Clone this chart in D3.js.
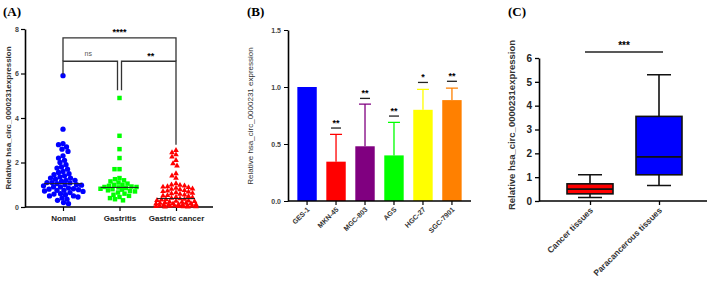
<!DOCTYPE html>
<html>
<head>
<meta charset="utf-8">
<script src="https://cdn.jsdelivr.net/npm/d3@7"></script>
<style>
  body { margin: 0; background: #fff; }
  svg { display: block; }
  svg text { font-family: "Liberation Sans", Arial, sans-serif; }
</style>
</head>
<body>
<svg id="chart" width="709" height="283"></svg>
<script>
// ---- panel A: scatter data ----
const groupsA = ["Nomal", "Gastritis", "Gastric cancer"];
const normalVals = [5.9, 3.5, 2.85, 2.8, 2.7, 2.6, 2.5, 2.3, 2.2, 2.1, 2.0, 1.9, 1.8, 1.75, 1.7, 1.6, 1.55, 1.5,
  1.45, 1.4, 1.35, 1.3, 1.3, 1.25, 1.2, 1.2, 1.15, 1.1, 1.1, 1.08, 1.05, 1.0, 1.0, 0.98, 0.95, 0.9, 0.9, 0.85,
  0.82, 0.8, 0.78, 0.75, 0.75, 0.72, 0.7, 0.65, 0.6, 0.58, 0.55, 0.5, 0.5, 0.45, 0.4, 0.35, 0.3, 0.2, 0.15];
const gastritisVals = [4.9, 3.2, 2.6, 2.2, 1.7, 1.7, 1.3, 1.25, 1.2, 1.15, 1.1, 1.05, 1.0, 1.0, 0.95, 0.92, 0.9,
  0.9, 0.88, 0.85, 0.82, 0.8, 0.78, 0.75, 0.72, 0.7, 0.65, 0.6, 0.55, 0.5, 0.45, 0.4, 0.35, 0.3];
const cancerVals = [2.55, 2.45, 2.35, 2.25, 2.1, 1.95, 1.85, 1.5, 1.4, 1.3, 1.05, 1.0, 0.98, 0.95, 0.92, 0.9,
  0.88, 0.85, 0.82, 0.8, 0.78, 0.75, 0.72, 0.7, 0.68, 0.65, 0.62, 0.6, 0.58, 0.55, 0.52, 0.5, 0.48, 0.45, 0.42,
  0.4, 0.38, 0.36, 0.34, 0.32, 0.3, 0.28, 0.26, 0.25, 0.23, 0.22, 0.2, 0.18, 0.17, 0.16, 0.15, 0.14, 0.12, 0.11,
  0.1, 0.09, 0.08, 0.07, 0.06, 0.05, 0.05, 0.04, 0.03, 0.03, 0.02, 0.02, 0.01, 0.01];
const mediansA = [1.05, 0.88, 0.38];
const colorsA = ["#0000ff", "#00ff00", "#ff0000"];
const ticksA = [0, 2, 4, 6, 8];

// ---- panel B: bar data ----
const cellLines = ["GES-1", "MKN-45", "MGC-803", "AGS", "HGC-27", "SGC-7901"];
const cellMeans = [1.0, 0.345, 0.48, 0.40, 0.80, 0.885];
const cellErrTop = [1.0, 0.585, 0.85, 0.69, 0.98, 0.99];
const cellSig = ["", "**", "**", "**", "*", "**"];
const cellSigY = [0, 0.64, 0.90, 0.745, 1.04, 1.05];
const cellColors = ["#0000ff", "#ff0000", "#800080", "#00ff00", "#ffff00", "#ff8000"];
const ticksB = [0, 0.5, 1.0, 1.5];

// ---- panel C: box data ----
const tissues = ["Cancer tissues", "Paracancerous tissues"];
const boxMin = [0.15, 0.65];
const boxQ1 = [0.3, 1.1];
const boxMed = [0.5, 1.85];
const boxQ3 = [0.72, 3.55];
const boxMax = [1.1, 5.3];
const boxColors = ["#ff0000", "#0000ff"];
const ticksC = [0, 1, 2, 3, 4, 5, 6];

const svg = d3.select("#chart");

function panelLabel(x, y, t) {
  svg.append("text").attr("x", x).attr("y", y)
    .style("font-family", "'Liberation Serif', serif").style("font-weight", "bold")
    .style("font-size", "13px").text(t);
}
panelLabel(3, 16, "(A)");
panelLabel(247, 16, "(B)");
panelLabel(508, 16, "(C)");

// ================= Panel A =================
{
  const x = d3.scalePoint().domain(groupsA).range([63, 176]);
  const y = d3.scaleLinear().domain([0, 8]).range([207, 29]);
  const g = svg.append("g");

  // axes
  const ya = g.append("g").attr("transform", "translate(25,0)")
    .call(d3.axisLeft(y).tickValues(ticksA).tickFormat(d3.format("d")).tickSize(4).tickSizeOuter(0));
  ya.select(".domain").attr("stroke-width", 1.6);
  ya.selectAll(".tick line").attr("stroke-width", 1.2);
  ya.selectAll("text").style("font-size", "7px").style("font-weight", "bold").attr("fill", "#444").attr("dx", 1);

  const xa = g.append("g").attr("transform", "translate(0,207)")
    .call(d3.axisBottom(x).tickSize(4).tickSizeOuter(0));
  xa.select(".domain").attr("d", "M25,0H213").attr("stroke-width", 1.6);
  xa.selectAll(".tick line").attr("stroke-width", 1.2);
  xa.selectAll("text").style("font-size", "8px").style("font-weight", "bold").attr("fill", "#222").attr("dy", "0.9em");

  g.append("text").attr("transform", "translate(11,118) rotate(-90)")
    .attr("text-anchor", "middle").style("font-size", "8px").style("font-weight", "bold").attr("fill", "#333")
    .text("Relative hsa_circ_0000231expression");

  // bounded beeswarm placement: pick the offset with least overlap inside +-20px
  const allGroups = [normalVals, gastritisVals, cancerVals];
  const diam = [4.6, 4.6, 4.2];
  const halfW = [21, 19, 20];
  allGroups.forEach((vals, gi) => {
    const placed = [];
    const cx = x(groupsA[gi]);
    const sorted = vals.slice().sort((a, b) => b - a);
    sorted.forEach(v => {
      const py = y(v);
      let best = 0, bestScore = Infinity;
      for (let off = -halfW[gi]; off <= halfW[gi]; off += 0.5) {
        let pen = 0;
        placed.forEach(p => {
          const dd = Math.hypot(p.x - off, p.y - py);
          if (dd < diam[gi]) pen += (diam[gi] - dd);
        });
        const score = pen * 10 + Math.abs(off) * 0.05;
        if (score < bestScore) { bestScore = score; best = off; }
      }
      placed.push({ x: best, y: py, v });
    });
    const sym = [d3.symbolCircle, d3.symbolSquare, d3.symbolTriangle][gi];
    const size = [22, 20, 14][gi];
    g.append("g").selectAll("path").data(placed).join("path")
      .attr("transform", p => `translate(${cx + p.x},${p.y})`)
      .attr("d", d3.symbol().type(sym).size(size))
      .attr("fill", colorsA[gi]);
    // median line
    g.append("line").attr("x1", cx - 19).attr("x2", cx + 19)
      .attr("y1", y(mediansA[gi])).attr("y2", y(mediansA[gi]))
      .attr("stroke", "#222").attr("stroke-width", 1);
  });

  // significance brackets
  const br = g.append("g").attr("fill", "none").attr("stroke", "#333").attr("stroke-width", 1.3);
  const xn = x("Nomal"), xg = x("Gastritis"), xc = x("Gastric cancer");
  br.append("path").attr("d", `M${xn},${y(6.55)}V${y(7.6)}H${xc}V${y(6.55)}`);
  br.append("path").attr("d", `M${xn},${y(5.95)}V${y(6.55)}H${xg - 2}V${y(5.25)}`);
  br.append("path").attr("d", `M${xg + 2},${y(5.25)}V${y(6.55)}H${xc}V${y(2.8)}`);
  g.append("text").attr("x", (xn + xc) / 2).attr("y", y(7.6) - 3).attr("text-anchor", "middle")
    .style("font-size", "9px").style("font-weight", "bold").text("****");
  g.append("text").attr("x", (xn + xg) / 2 - 3).attr("y", y(6.55) - 5).attr("text-anchor", "middle")
    .style("font-size", "7px").attr("fill", "#555").text("ns");
  g.append("text").attr("x", (xg + xc) / 2 + 3).attr("y", y(6.55) - 2).attr("text-anchor", "middle")
    .style("font-size", "9px").style("font-weight", "bold").text("**");
}

// ================= Panel B =================
{
  const x = d3.scaleBand().domain(cellLines).range([293, 466]).paddingInner(0.33).paddingOuter(0.15);
  const y = d3.scaleLinear().domain([0, 1.5]).range([201, 30]);
  const g = svg.append("g");

  const ya = g.append("g").attr("transform", "translate(288,0)")
    .call(d3.axisLeft(y).tickValues(ticksB).tickFormat(d3.format(".1f")).tickSize(4).tickSizeOuter(0));
  ya.select(".domain").attr("stroke-width", 1.6);
  ya.selectAll("text").style("font-size", "7px").style("font-weight", "bold").attr("fill", "#444");

  g.selectAll("rect.bar").data(cellLines).join("rect").attr("class", "bar")
    .attr("x", d => x(d)).attr("width", x.bandwidth())
    .attr("y", (d, i) => y(cellMeans[i])).attr("height", (d, i) => y(0) - y(cellMeans[i]))
    .attr("fill", (d, i) => cellColors[i]);

  // upper error bars
  cellLines.forEach((d, i) => {
    if (cellErrTop[i] <= cellMeans[i]) return;
    const cx = x(d) + x.bandwidth() / 2;
    g.append("path").attr("d", `M${cx},${y(cellMeans[i])}V${y(cellErrTop[i])}M${cx - 6},${y(cellErrTop[i])}H${cx + 6}`)
      .attr("stroke", cellColors[i]).attr("stroke-width", 1.3).attr("fill", "none");
    if (cellSig[i]) {
      g.append("line").attr("x1", cx - 5).attr("x2", cx + 5)
        .attr("y1", y(cellSigY[i])).attr("y2", y(cellSigY[i]))
        .attr("stroke", "#222").attr("stroke-width", 1.3);
      g.append("text").attr("x", cx).attr("y", y(cellSigY[i]) - 2.5).attr("text-anchor", "middle")
        .style("font-size", "9px").style("font-weight", "bold").text(cellSig[i]);
    }
  });

  const xa = g.append("g").attr("transform", "translate(0,201)")
    .call(d3.axisBottom(x).tickSize(4).tickSizeOuter(0));
  xa.select(".domain").attr("d", "M288,0H471").attr("stroke-width", 1.6);
  xa.selectAll(".tick line").attr("stroke-width", 1.2);
  xa.selectAll("text").style("font-size", "7px").style("font-weight", "bold").attr("fill", "#333")
    .attr("text-anchor", "end").attr("dy", 0).attr("y", 0)
    .attr("transform", "translate(3,9) rotate(-45)");

  g.append("text").attr("transform", "translate(253,116) rotate(-90)")
    .attr("text-anchor", "middle").style("font-size", "8px").attr("fill", "#333")
    .text("Relative hsa_circ_0000231 expression");
}

// ================= Panel C =================
{
  const x = d3.scalePoint().domain(tissues).range([590, 659]);
  const y = d3.scaleLinear().domain([0, 6]).range([201, 58]);
  const g = svg.append("g");
  const bw = 46;

  tissues.forEach((d, i) => {
    const cx = x(d);
    g.append("path").attr("d",
      `M${cx},${y(boxQ3[i])}V${y(boxMax[i])}M${cx - 12},${y(boxMax[i])}H${cx + 12}` +
      `M${cx},${y(boxQ1[i])}V${y(boxMin[i])}M${cx - 12},${y(boxMin[i])}H${cx + 12}`)
      .attr("stroke", "#111").attr("stroke-width", 1.6).attr("fill", "none");
    g.append("rect").attr("x", cx - bw / 2).attr("width", bw)
      .attr("y", y(boxQ3[i])).attr("height", y(boxQ1[i]) - y(boxQ3[i]))
      .attr("fill", boxColors[i]).attr("stroke", "#111").attr("stroke-width", 1.6);
    g.append("line").attr("x1", cx - bw / 2).attr("x2", cx + bw / 2)
      .attr("y1", y(boxMed[i])).attr("y2", y(boxMed[i]))
      .attr("stroke", "#111").attr("stroke-width", 1.6);
  });

  const ya = g.append("g").attr("transform", "translate(539,0)")
    .call(d3.axisLeft(y).tickValues(ticksC).tickFormat(d3.format("d")).tickSize(4).tickSizeOuter(0));
  ya.select(".domain").attr("stroke-width", 1.6);
  ya.selectAll(".tick line").attr("stroke-width", 1.3);
  ya.selectAll("text").style("font-size", "10px").style("font-weight", "bold").attr("fill", "#222");

  const xa = g.append("g").attr("transform", "translate(0,201)")
    .call(d3.axisBottom(x).tickSize(4).tickSizeOuter(0));
  xa.select(".domain").attr("d", "M539,0H707").attr("stroke-width", 1.6);
  xa.selectAll(".tick line").attr("stroke-width", 1.3);
  xa.selectAll("text").style("font-size", "8.5px").style("font-weight", "bold").attr("fill", "#333")
    .attr("text-anchor", "end").attr("dy", 0).attr("y", 0)
    .attr("transform", "translate(3,10) rotate(-45)");

  g.append("text").attr("transform", "translate(515,125) rotate(-90)")
    .attr("text-anchor", "middle").style("font-size", "9.5px").style("font-weight", "bold").attr("fill", "#333")
    .text("Relative hsa_circ_0000231expression");

  // significance
  g.append("line").attr("x1", 585).attr("x2", 663).attr("y1", y(6.25)).attr("y2", y(6.25))
    .attr("stroke", "#222").attr("stroke-width", 1.6);
  g.append("text").attr("x", 624).attr("y", y(6.25) - 3).attr("text-anchor", "middle")
    .style("font-size", "10px").style("font-weight", "bold").text("***");
}
</script>
</body>
</html>
